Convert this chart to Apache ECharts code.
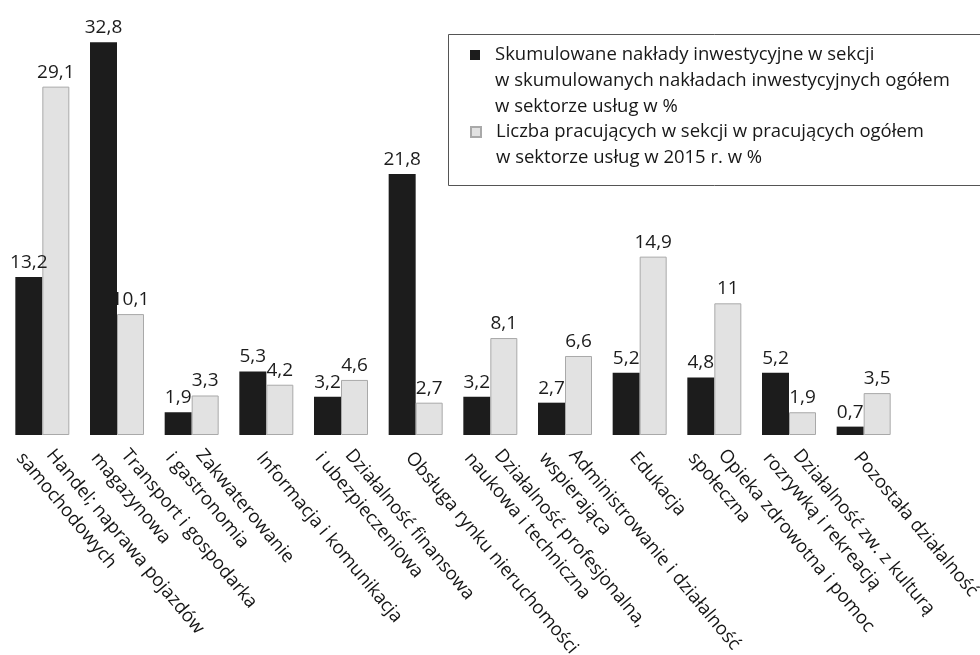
<!DOCTYPE html>
<html>
<head>
<meta charset="utf-8">
<script src="https://cdn.jsdelivr.net/npm/echarts@6/dist/echarts.min.js"></script>
<style>
  html, body { margin: 0; padding: 0; background: #fff; }
  #chart { width: 980px; height: 655px; }
</style>
</head>
<body>
<div id="chart"></div>
<script>
const categories = [
  'Handel; naprawa pojazdów\nsamochodowych',
  'Transport i gospodarka\nmagazynowa',
  'Zakwaterowanie\ni gastronomia',
  'Informacja i komunikacja',
  'Działalność finansowa\ni ubezpieczeniowa',
  'Obsługa rynku nieruchomości',
  'Działalność profesjonalna,\nnaukowa i techniczna',
  'Administrowanie i działalność\nwspierająca',
  'Edukacja',
  'Opieka zdrowotna i pomoc\nspołeczna',
  'Działalność zw. z kulturą\nrozrywką i rekreacją',
  'Pozostała działalność'
];
const investmentShare = [13.2, 32.8, 1.9, 5.3, 3.2, 21.8, 3.2, 2.7, 5.2, 4.8, 5.2, 0.7];
const employmentShare = [29.1, 10.1, 3.3, 4.2, 4.6, 2.7, 8.1, 6.6, 14.9, 11, 1.9, 3.5];
const seriesNames = [
  'Skumulowane nakłady inwestycyjne w sekcji\nw skumulowanych nakładach inwestycyjnych ogółem\nw sektorze usług w %',
  'Liczba pracujących w sekcji w pracujących ogółem\nw sektorze usług w 2015 r. w %'
];

const FONT = '"Open Sans", "Noto Sans", sans-serif';
const fmt = p => String(p.value).replace('.', ',');

const chart = echarts.init(document.getElementById('chart'), null, { renderer: 'canvas' });

const labelFormatter = v => {
  const parts = v.split('\n');
  if (parts.length === 1) return '{s|' + v + '}';
  return '{a|' + parts[0] + '}\n{b|' + parts[1] + '}';
};
const richBase = { fontSize: 18.5, lineHeight: 25, fontFamily: FONT, color: '#151515' };

chart.setOption({
  animation: false,
  backgroundColor: '#fff',
  graphic: [
    {
      type: 'rect', left: 446, top: 32, z: -1, silent: true,
      shape: { width: 560, height: 151 },
      style: { fill: 'none', stroke: '#555', lineWidth: 1 }
    }
  ],
  grid: [
    { left: 5, right: 79, top: 16, bottom: 220, containLabel: false, outerBoundsMode: 'none' },
    { left: -8, right: 92, top: 16, bottom: 220, containLabel: false, outerBoundsMode: 'none' }
  ],
  legend: [
    {
      data: [seriesNames[0]],
      orient: 'vertical',
      left: 446, top: 32,
      padding: [10, 0, 0, 24],
      itemWidth: 20, itemHeight: 78,
      icon: 'path://M0 0L0 0M0 8H10V18H0ZM20 78L20 78',
      textStyle: { fontSize: 18.5, lineHeight: 26, fontFamily: FONT, color: '#181818' }
    },
    {
      data: [seriesNames[1]],
      orient: 'vertical',
      left: 446, top: 118,
      padding: [0, 0, 0, 24],
      itemWidth: 20, itemHeight: 52,
      icon: 'path://M0 0L0 0M0 8H10V18H0ZM20 52L20 52',
      textStyle: { fontSize: 18.5, lineHeight: 26, fontFamily: FONT, color: '#181818' }
    }
  ],
  xAxis: [
    {
      type: 'category', gridIndex: 0, data: categories,
      axisLine: { show: false }, axisTick: { show: false }, axisLabel: { show: false }
    },
    {
      type: 'category', gridIndex: 1, data: categories,
      axisLine: { show: false }, axisTick: { show: false },
      axisLabel: {
        interval: 0, rotate: -50, margin: 12,
        formatter: labelFormatter,
        fontSize: 18.5, lineHeight: 25, fontFamily: FONT, color: '#151515',
        rich: {
          s: Object.assign({ padding: [0, 0, 0, 10] }, richBase),
          a: Object.assign({ padding: [0, 0, 0, 17] }, richBase),
          b: Object.assign({}, richBase)
        }
      }
    }
  ],
  yAxis: [
    { type: 'value', gridIndex: 0, min: 0, max: 35, show: false, splitLine: { show: false } },
    { type: 'value', gridIndex: 1, min: 0, max: 35, show: false, splitLine: { show: false } }
  ],
  series: [
    {
      name: seriesNames[0], type: 'bar', xAxisIndex: 0, yAxisIndex: 0,
      data: investmentShare,
      barWidth: 27, barGap: '0%',
      itemStyle: { color: '#1c1c1c' },
      label: { show: true, position: 'top', distance: 5, formatter: fmt,
               fontSize: 19, fontFamily: FONT, color: '#1c1c1c' }
    },
    {
      name: seriesNames[1], type: 'bar', xAxisIndex: 0, yAxisIndex: 0,
      data: employmentShare,
      barWidth: 27, barGap: '0%',
      itemStyle: { color: '#e2e2e2', borderColor: '#a9a9a9', borderWidth: 1 },
      label: { show: true, position: 'top', distance: 5, formatter: fmt,
               fontSize: 19, fontFamily: FONT, color: '#1c1c1c' }
    }
  ]
});
</script>
</body>
</html>
